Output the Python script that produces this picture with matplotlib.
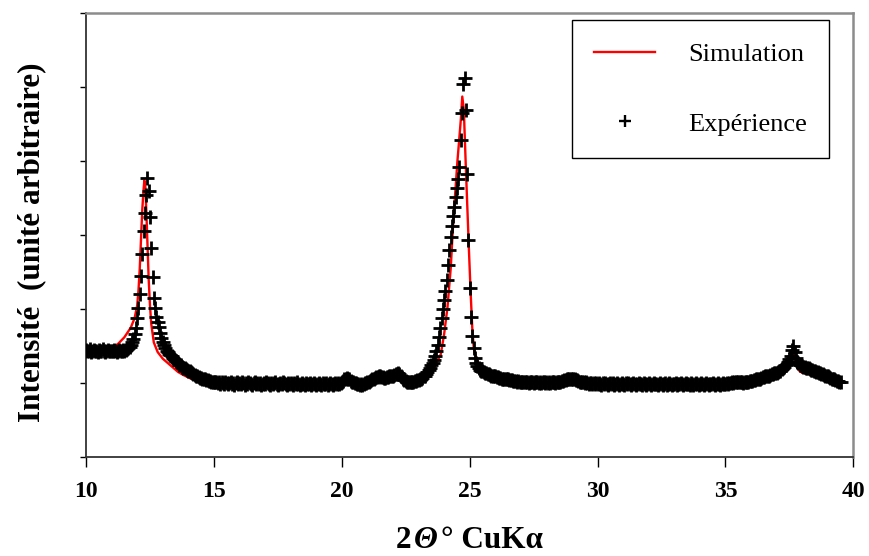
import numpy as np
import matplotlib
matplotlib.use("Agg")
import matplotlib.pyplot as plt
from matplotlib.lines import Line2D
from matplotlib.offsetbox import TextArea, HPacker, AnchoredOffsetbox

plt.rcParams["font.family"] = ["Liberation Serif", "DejaVu Serif"]

# ---------------------------------------------------------------------------
# Data (2theta step 0.05, one line = 1 degree)
# ---------------------------------------------------------------------------
exp_start, exp_step = 10.0, 0.05
exp_y = [
    1.45, 1.43, 1.44, 1.46, 1.42, 1.44, 1.45, 1.43, 1.44, 1.42, 1.45, 1.44, 1.43, 1.46, 1.44, 1.42, 1.43, 1.45, 1.44, 1.43,  # 10
    1.44, 1.43, 1.45, 1.44, 1.42, 1.44, 1.45, 1.44, 1.43, 1.45, 1.44, 1.45, 1.46, 1.47, 1.49, 1.52, 1.55, 1.59, 1.66, 1.75,  # 11
    1.88, 2.02, 2.20, 2.45, 2.75, 3.06, 3.30, 3.55, 3.77, 3.60, 3.24, 2.82, 2.43, 2.15, 2.02, 1.90, 1.82, 1.76, 1.68, 1.61,  # 12
    1.55, 1.51, 1.47, 1.44, 1.42, 1.40, 1.38, 1.36, 1.34, 1.32, 1.30, 1.28, 1.27, 1.25, 1.24, 1.22, 1.21, 1.20, 1.19, 1.18,  # 13
    1.17, 1.16, 1.15, 1.14, 1.12, 1.11, 1.10, 1.09, 1.08, 1.07, 1.07, 1.06, 1.05, 1.05, 1.04, 1.04, 1.03, 1.03, 1.02, 1.02,  # 14
    1.02, 1.01, 1.02, 1.00, 1.01, 0.99, 1.01, 1.00, 0.99, 1.01, 1.00, 0.99, 1.00, 1.01, 0.99, 1.00, 0.98, 1.00, 1.01, 0.99,  # 15
    1.00, 0.99, 1.01, 1.00, 0.98, 1.00, 0.99, 1.01, 1.00, 0.99, 0.98, 1.00, 1.01, 0.99, 1.00, 0.99, 1.00, 0.98, 0.99, 1.00,  # 16
    0.99, 1.01, 1.00, 0.99, 0.98, 1.00, 0.99, 1.00, 1.01, 0.99, 0.98, 0.99, 1.00, 0.99, 1.01, 1.00, 0.99, 0.98, 1.00, 0.99,  # 17
    1.00, 0.99, 0.98, 1.00, 0.99, 1.01, 0.99, 0.98, 0.99, 1.00, 0.99, 0.98, 1.00, 0.99, 0.99, 1.00, 0.98, 0.99, 1.00, 0.99,  # 18
    0.98, 0.99, 1.00, 0.99, 0.98, 1.00, 0.99, 0.99, 1.00, 0.98, 0.99, 1.00, 0.99, 0.98, 0.99, 1.00, 0.99, 1.00, 0.99, 1.00,  # 19
    1.01, 1.03, 1.05, 1.06, 1.07, 1.06, 1.05, 1.03, 1.02, 1.01, 1.00, 1.00, 0.99, 0.99, 0.98, 0.99, 0.98, 0.99, 1.00, 1.00,  # 20
    1.01, 1.02, 1.03, 1.04, 1.05, 1.06, 1.07, 1.08, 1.08, 1.09, 1.09, 1.08, 1.08, 1.07, 1.07, 1.08, 1.08, 1.09, 1.09, 1.10,  # 21
    1.10, 1.11, 1.12, 1.12, 1.13, 1.12, 1.10, 1.08, 1.06, 1.04, 1.03, 1.02, 1.01, 1.01, 1.01, 1.02, 1.02, 1.03, 1.03, 1.04,  # 22
    1.04, 1.05, 1.06, 1.07, 1.09, 1.10, 1.12, 1.15, 1.18, 1.21, 1.24, 1.27, 1.31, 1.36, 1.43, 1.52, 1.62, 1.75, 1.88, 2.00,  # 23
    2.12, 2.24, 2.40, 2.60, 2.80, 2.98, 3.12, 3.26, 3.38, 3.52, 3.64, 3.76, 3.92, 4.29, 4.65, 5.05, 5.13, 4.69, 3.83, 2.93,  # 24
    2.29, 1.90, 1.63, 1.47, 1.34, 1.27, 1.23, 1.20, 1.18, 1.17, 1.16, 1.15, 1.14, 1.13, 1.12, 1.12, 1.11, 1.10, 1.10, 1.09,  # 25
    1.09, 1.08, 1.08, 1.07, 1.07, 1.06, 1.06, 1.06, 1.05, 1.05, 1.05, 1.04, 1.04, 1.04, 1.03, 1.03, 1.03, 1.02, 1.03, 1.02,  # 26
    1.02, 1.01, 1.02, 1.01, 1.02, 1.01, 1.00, 1.01, 1.02, 1.01, 1.00, 1.01, 1.02, 1.01, 1.00, 1.01, 1.00, 1.02, 1.01, 1.00,  # 27
    1.01, 1.00, 1.01, 1.00, 1.01, 1.02, 1.01, 1.00, 1.01, 1.02, 1.01, 1.02, 1.03, 1.03, 1.04, 1.04, 1.05, 1.05, 1.05, 1.06,  # 28
    1.06, 1.05, 1.05, 1.04, 1.04, 1.03, 1.02, 1.02, 1.01, 1.01, 1.00, 1.01, 1.00, 0.99, 1.00, 1.00, 0.99, 1.00, 0.99, 1.00,  # 29
    0.99, 1.00, 0.99, 0.98, 1.00, 0.99, 1.00, 0.99, 0.98, 0.99, 1.00, 0.99, 1.00, 0.98, 0.99, 1.00, 0.99, 0.98, 0.99, 1.00,  # 30
    0.99, 0.98, 1.00, 0.99, 1.00, 0.99, 0.98, 0.99, 1.00, 0.99, 0.98, 0.99, 1.00, 0.99, 0.99, 0.98, 1.00, 0.99, 0.98, 0.99,  # 31
    1.00, 0.99, 0.98, 0.99, 1.00, 0.99, 0.99, 0.98, 0.99, 1.00, 0.99, 0.98, 0.99, 1.00, 0.98, 0.99, 1.00, 0.99, 0.98, 0.99,  # 32
    0.99, 1.00, 0.98, 0.99, 0.99, 1.00, 0.99, 0.98, 0.99, 1.00, 0.99, 0.99, 0.98, 1.00, 0.99, 0.98, 0.99, 1.00, 0.99, 0.98,  # 33
    0.99, 1.00, 0.99, 0.98, 0.99, 1.00, 0.99, 0.98, 0.99, 0.99, 1.00, 0.99, 0.98, 0.99, 1.00, 0.99, 0.98, 0.99, 1.00, 0.99,  # 34
    0.99, 1.00, 0.99, 1.00, 1.00, 1.01, 1.00, 1.01, 1.01, 1.02, 1.02, 1.02, 1.01, 1.01, 1.00, 1.01, 1.01, 1.02, 1.02, 1.03,  # 35
    1.03, 1.03, 1.04, 1.04, 1.05, 1.05, 1.06, 1.06, 1.07, 1.08, 1.08, 1.09, 1.09, 1.10, 1.10, 1.11, 1.12, 1.12, 1.13, 1.14,  # 36
    1.14, 1.15, 1.16, 1.17, 1.19, 1.20, 1.22, 1.24, 1.26, 1.29, 1.32, 1.37, 1.45, 1.50, 1.42, 1.34, 1.29, 1.27, 1.25, 1.24,  # 37
    1.23, 1.22, 1.22, 1.21, 1.20, 1.20, 1.19, 1.18, 1.18, 1.17, 1.16, 1.15, 1.15, 1.14, 1.13, 1.12, 1.12, 1.11, 1.10, 1.10,  # 38
    1.09, 1.08, 1.07, 1.06, 1.06, 1.05, 1.04, 1.03, 1.03, 1.02, 1.01,                                                      # 39
]
exp_x = np.round(exp_start + exp_step * np.arange(len(exp_y)), 2)

# simulated profile (red curve)
sim_x = [10.0, 10.5, 11.0, 11.25, 11.5, 11.75, 11.9, 12.0, 12.05, 12.1, 12.15, 12.2,
         12.25, 12.28, 12.32, 12.36, 12.4, 12.45, 12.5, 12.55, 12.65, 12.8, 13.0,
         13.3, 13.6, 13.8, 14.1, 14.5, 15.0, 17.0, 19.5, 19.9, 20.2, 20.5, 20.9, 21.3,
         21.6, 22.0, 22.3, 22.7, 23.0, 23.3, 23.6, 23.87, 24.0, 24.13, 24.26, 24.36,
         24.45, 24.52, 24.58, 24.65, 24.71, 24.77, 24.84, 24.9, 24.97, 25.04, 25.1,
         25.16, 25.25, 25.43, 25.7, 26.0, 26.5, 27.0, 28.0, 28.6, 29.0, 29.5, 30.0,
         33.0, 35.0, 35.5, 36.0, 36.5, 37.0, 37.3, 37.5, 37.6, 37.65, 37.7, 37.8,
         37.9, 38.0, 38.3, 38.6, 39.0, 39.3, 39.6]
sim_y = [1.42, 1.43, 1.47, 1.53, 1.62, 1.75, 1.88, 2.05, 2.25, 2.55, 2.95, 3.35,
         3.62, 3.74, 3.65, 3.30, 2.90, 2.40, 2.05, 1.80, 1.55, 1.42, 1.33,
         1.24, 1.15, 1.11, 1.06, 1.03, 1.01, 0.99, 0.99, 1.01, 1.06, 1.02, 0.99, 1.06,
         1.08, 1.10, 1.12, 1.02, 1.04, 1.10, 1.20, 1.39, 1.66, 2.02, 2.56, 3.20,
         3.65, 4.00, 4.25, 4.55, 4.875, 4.70, 4.01, 3.45, 2.80, 2.20, 1.75,
         1.47, 1.33, 1.22, 1.15, 1.10, 1.06, 1.03, 1.01, 1.03, 1.05, 1.01, 0.99,
         0.99, 0.99, 1.01, 1.02, 1.06, 1.13, 1.21, 1.31, 1.39, 1.42, 1.35, 1.22,
         1.16, 1.14, 1.12, 1.09, 1.06, 1.04, 1.02]

xticks = [10, 15, 20, 25, 30, 35, 40]
yticks = [0, 1, 2, 3, 4, 5, 6]

# ---------------------------------------------------------------------------
fig = plt.figure(figsize=(8.69, 5.56), dpi=100)
ax = fig.add_axes([0.099, 0.178, 0.883, 0.798])

ax.plot(sim_x, sim_y, color="#ff0000", lw=1.7, zorder=2)
ax.plot(exp_x, exp_y, ls="none", marker="+", ms=9.5, mew=2.0, color="black", zorder=3)

ax.set_xlim(10, 40)
ax.set_ylim(0, 6)
ax.set_xticks(xticks)
ax.set_yticks(yticks)
ax.set_yticklabels([])
ax.tick_params(axis="x", direction="out", length=7, width=1, pad=10, labelsize=17)
ax.tick_params(axis="y", direction="out", length=4, width=1)
for lab in ax.get_xticklabels():
    lab.set_fontweight("bold")

for s in ("left", "bottom"):
    ax.spines[s].set_color("#333333")
    ax.spines[s].set_linewidth(1.3)
for s in ("top", "right"):
    ax.spines[s].set_color("#8c8c8c")
    ax.spines[s].set_linewidth(1.8)

# x label: "2Θ° CuKα" with an italic theta
tp = dict(fontsize=22.5, fontweight="bold", color="black")
xlab = HPacker(children=[TextArea("2", textprops=tp),
                         TextArea("Θ", textprops=dict(tp, fontstyle="italic")),
                         TextArea("° CuKα", textprops=tp)],
               align="baseline", pad=0, sep=2)
ax.add_artist(AnchoredOffsetbox(loc="center", child=xlab, frameon=False, pad=0,
                                bbox_to_anchor=(469 / 869, 1 - 540 / 556),
                                bbox_transform=fig.transFigure, borderpad=0))

ax.set_ylabel("Intensité  (unité arbitraire)", fontsize=22.5, fontweight="bold")
ax.yaxis.set_label_coords(-0.052, 0.485)

handles = [Line2D([], [], color="#ff0000", lw=1.7),
           Line2D([], [], ls="none", marker="+", ms=8, mew=1.7, color="black")]
leg = ax.legend(handles, ["Simulation", "Expérience"], loc="upper left",
                bbox_to_anchor=(572 / 869, 1 - 20 / 556), bbox_transform=fig.transFigure,
                fontsize=19, frameon=True, fancybox=False, framealpha=1,
                edgecolor="black", labelspacing=1.75, borderpad=0.85,
                handlelength=2.3, handletextpad=1.25, borderaxespad=0)
leg.get_frame().set_linewidth(1.0)

fig.savefig("out.png", dpi=100, facecolor="white")
